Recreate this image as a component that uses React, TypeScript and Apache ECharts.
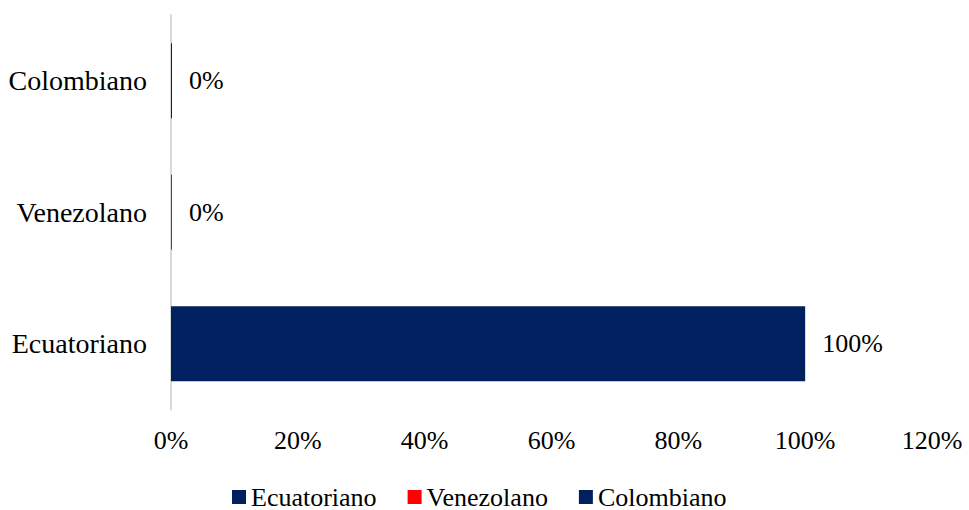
import React, { useEffect, useRef } from "react";
import * as echarts from "echarts";

const categories = ["Ecuatoriano", "Venezolano", "Colombiano"];
const seriesNames = ["Ecuatoriano", "Venezolano", "Colombiano"];
const ecuatorianoValues: (number | string)[] = [100, "-", "-"];
const venezolanoValues: (number | string)[] = ["-", 0, "-"];
const colombianoValues: (number | string)[] = ["-", "-", 0];
const seriesColors = ["#002060", "#FF0000", "#002060"];
const xTicks = { min: 0, max: 120, interval: 20 };

const FONT = "'Liberation Serif', 'Times New Roman', serif";

export default function App() {
  const ref = useRef<HTMLDivElement>(null);
  useEffect(() => {
    if (!ref.current) return;
    const chart = echarts.init(ref.current, null, { renderer: "svg" });
    const values = [ecuatorianoValues, venezolanoValues, colombianoValues];
    chart.setOption({
      animation: false,
      textStyle: { fontFamily: FONT },
      grid: { left: 171, right: 37, top: 15, bottom: 100.5, containLabel: false },
      legend: {
        left: 232,
        top: 484,
        padding: 0,
        itemWidth: 14,
        itemHeight: 14,
        itemGap: 31,
        icon: "rect",
        textStyle: { fontFamily: FONT, fontSize: 26, color: "#000" },
        data: seriesNames,
      },
      xAxis: {
        type: "value",
        min: xTicks.min,
        max: xTicks.max,
        interval: xTicks.interval,
        axisLine: { show: false },
        axisTick: { show: false },
        splitLine: { show: false },
        axisLabel: {
          formatter: "{value}%",
          fontFamily: FONT,
          fontSize: 26,
          color: "#000",
          margin: 18,
        },
      },
      yAxis: {
        type: "category",
        data: categories,
        axisLine: { show: true, lineStyle: { color: "#D9D9D9", width: 2 } },
        axisTick: { show: false },
        axisLabel: { fontFamily: FONT, fontSize: 28, color: "#000", margin: 24 },
      },
      series: seriesNames.map((name, i) => ({
        name,
        type: "bar",
        stack: "total",
        data: values[i],
        barWidth: 75,
        barMinHeight: 1,
        itemStyle: { color: seriesColors[i] },
        label: {
          show: true,
          position: "right",
          distance: 17,
          formatter: "{c}%",
          fontFamily: FONT,
          fontSize: 26,
          color: "#000",
        },
      })),
    });
    return () => chart.dispose();
  }, []);
  return (
    <div
      ref={ref}
      style={{ position: "fixed", left: 0, top: 0, width: 969, height: 510, background: "#fff" }}
    />
  );
}
